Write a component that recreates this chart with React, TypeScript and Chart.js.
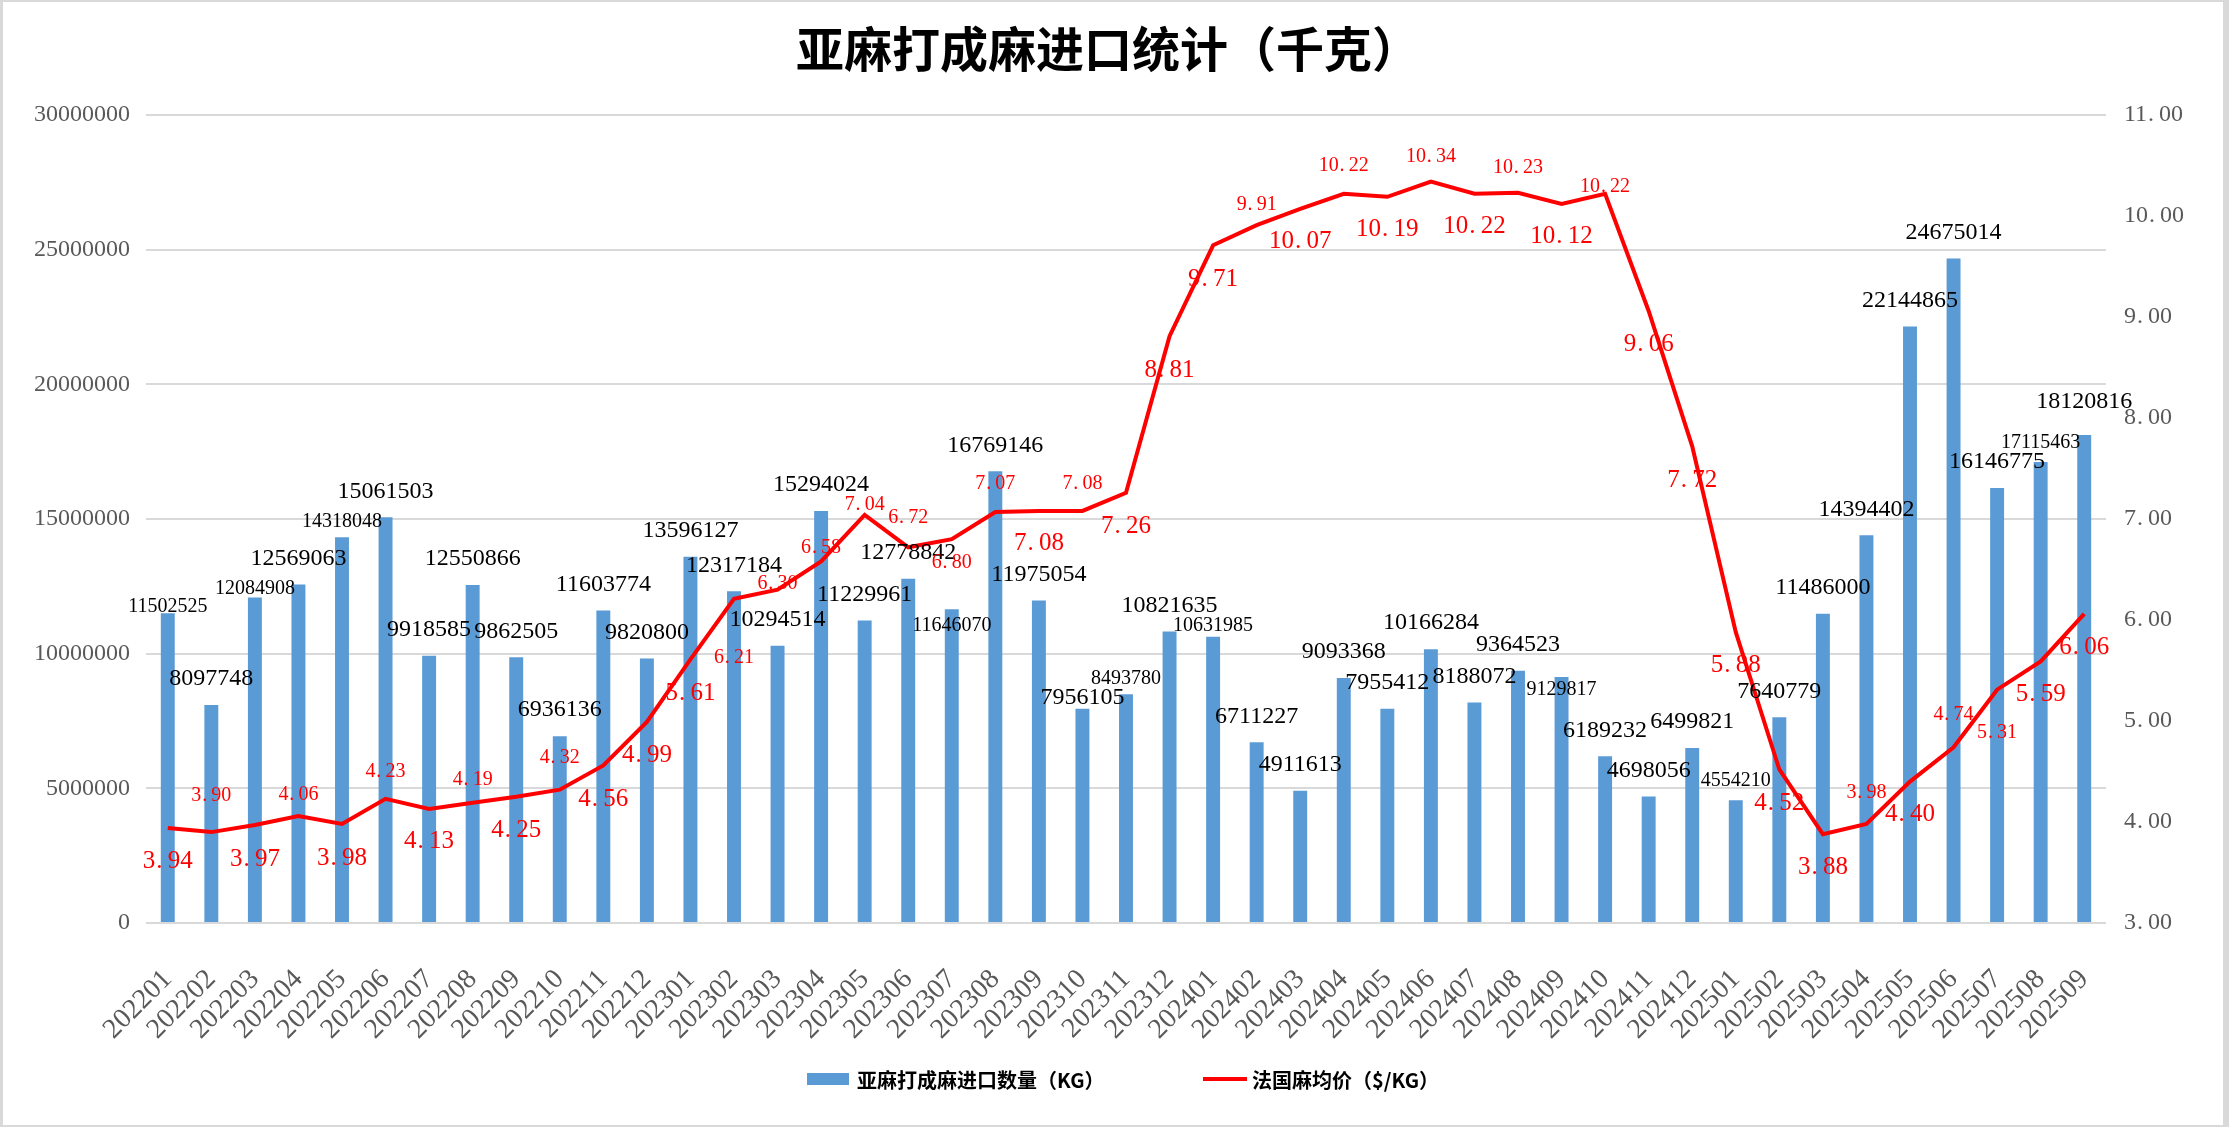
import { useEffect, useRef } from "react"
import { Chart, registerables } from "chart.js"

Chart.register(...registerables)

const months = [
  "202201", "202202", "202203", "202204", "202205", "202206", "202207", "202208", "202209", "202210", "202211", "202212",
  "202301", "202302", "202303", "202304", "202305", "202306", "202307", "202308", "202309", "202310", "202311", "202312",
  "202401", "202402", "202403", "202404", "202405", "202406", "202407", "202408", "202409", "202410", "202411", "202412",
  "202501", "202502", "202503", "202504", "202505", "202506", "202507", "202508", "202509",
]

// 亚麻打成麻进口数量 (KG)
const importKg = [
  11502525, 8097748, 12084908, 12569063, 14318048, 15061503, 9918585, 12550866, 9862505, 6936136, 11603774, 9820800,
  13596127, 12317184, 10294514, 15294024, 11229961, 12778842, 11646070, 16769146, 11975054, 7956105, 8493780, 10821635,
  10631985, 6711227, 4911613, 9093368, 7955412, 10166284, 8188072, 9364523, 9129817, 6189232, 4698056, 6499821,
  4554210, 7640779, 11486000, 14394402, 22144865, 24675014, 16146775, 17115463, 18120816,
]

// 法国麻均价 ($/KG)
const priceUsd = [
  3.94, 3.9, 3.97, 4.06, 3.98, 4.23, 4.13, 4.19, 4.25, 4.32, 4.56, 4.99,
  5.61, 6.21, 6.3, 6.58, 7.04, 6.72, 6.8, 7.07, 7.08, 7.08, 7.26, 8.81,
  9.71, 9.91, 10.07, 10.22, 10.19, 10.34, 10.22, 10.23, 10.12, 10.22, 9.06, 7.72,
  5.88, 4.52, 3.88, 3.98, 4.4, 4.74, 5.31, 5.59, 6.06,
]

const leftMin = 0
const leftMax = 30000000
const leftStep = 5000000
const rightMin = 3
const rightMax = 11
const rightStep = 1

// label placement (style only)
const priceLabelDy = [
  33, -36, 34, -21, 34, -27, 33, -23, 34, -32, 34, 33, 34, 59, -6, -14, -10, -30, 24, -28, 33, -27, 34,
  34, 34, -20, 33, -28, 33, -25, 33, -25, 33, -7, 33, 34, 33, 34, 33, -31, 33, -33, 43, 33, 33,
]
const priceLabelSize = "LSLSLSLSLS" + "LLLSSSSSSS" + "LSLLLSLSLS" + "LSLSLLLLLS" + "LSSLL"
const barSmallLabels = [0, 2, 4, 18, 22, 24, 32, 36, 43]
const barLabelDy: Record<number, number> = {
  0: -6, 2: -9, 4: -16, 18: 16, 21: -11, 22: -15, 24: -11, 32: 13, 36: -20, 43: -19, 44: -33,
}

const W = 2229
const H = 1127
const serif = "'Liberation Serif', 'DejaVu Serif', serif"
const cjk = "'Noto Sans CJK SC', 'Noto Sans', sans-serif"

// decimal number with a wide (full-cell) dot, like the mincho font of the original
function drawDecimal(
  ctx: CanvasRenderingContext2D,
  text: string,
  x0: number,
  cy: number,
  size: number,
  align: "center" | "left" = "center"
) {
  const [a, b] = text.split(".")
  const wa = ctx.measureText(a).width
  const wb = ctx.measureText(b).width
  const wd = size * 0.5
  const x = align === "center" ? x0 - (wa + wd + wb) / 2 : x0
  ctx.textAlign = "left"
  ctx.fillText(a, x, cy)
  ctx.fillText(".", x + wa + size * 0.04, cy)
  ctx.fillText(b, x + wa + wd, cy)
}

const framePlugin = {
  id: "frame",
  beforeDraw(chart: Chart) {
    const ctx = chart.ctx
    ctx.save()
    ctx.fillStyle = "#d9d9d9"
    ctx.fillRect(0, 0, W, H)
    ctx.fillStyle = "#ffffff"
    ctx.fillRect(3, 2, W - 9, H - 4)
    ctx.restore()
  },
}

const labelPlugin = {
  id: "valueLabels",
  afterDatasetsDraw(chart: Chart) {
    const ctx = chart.ctx
    const bars = chart.getDatasetMeta(0).data
    const pts = chart.getDatasetMeta(1).data
    ctx.save()
    ctx.textAlign = "center"
    ctx.textBaseline = "middle"
    ctx.fillStyle = "#000000"
    bars.forEach((bar: any, i: number) => {
      const small = barSmallLabels.includes(i)
      ctx.font = `${small ? 20 : 24}px ${serif}`
      const dy = barLabelDy[i] ?? -26
      ctx.fillText(String(importKg[i]), bar.x, bar.y + dy)
    })
    ctx.fillStyle = "#ff0000"
    pts.forEach((pt: any, i: number) => {
      const size = priceLabelSize[i] === "L" ? 25 : 20
      ctx.font = `${size}px ${serif}`
      drawDecimal(ctx, priceUsd[i].toFixed(2), pt.x, pt.y + priceLabelDy[i], size)
    })

    // right axis tick labels, placed by the y1 scale
    const y1 = chart.scales.y1
    ctx.fillStyle = "#595959"
    ctx.font = `24px ${serif}`
    y1.ticks.forEach((t: any) => {
      drawDecimal(ctx, Number(t.value).toFixed(2), y1.left + 18, y1.getPixelForValue(t.value), 24, "left")
    })
    ctx.restore()
  },
}

const titleLegendPlugin = {
  id: "titleLegend",
  afterDraw(chart: Chart) {
    const ctx = chart.ctx
    ctx.save()
    ctx.fillStyle = "#000000"
    ctx.textAlign = "center"
    ctx.textBaseline = "middle"
    ctx.font = `bold 48px ${cjk}`
    ctx.fillText("亚麻打成麻进口统计（千克）", 1108, 49)

    ctx.textAlign = "left"
    ctx.font = `bold 20px ${cjk}`
    ctx.fillStyle = "#5b9bd5"
    ctx.fillRect(807, 1073, 42, 12)
    ctx.fillStyle = "#000000"
    ctx.fillText("亚麻打成麻进口数量（KG）", 857, 1080)

    ctx.strokeStyle = "#ff0000"
    ctx.lineWidth = 4
    ctx.beginPath()
    ctx.moveTo(1203, 1079)
    ctx.lineTo(1247, 1079)
    ctx.stroke()
    ctx.fillText("法国麻均价（$/KG）", 1252, 1080)
    ctx.restore()
  },
}

export default function App() {
  const canvasRef = useRef<HTMLCanvasElement>(null)

  useEffect(() => {
    document.body.style.margin = "0"
    if (!canvasRef.current) return
    const ctx = canvasRef.current.getContext("2d")
    if (!ctx) return

    const chart = new Chart(ctx, {
      type: "bar",
      data: {
        labels: months,
        datasets: [
          {
            type: "bar",
            label: "亚麻打成麻进口数量（KG）",
            data: importKg,
            backgroundColor: "#5b9bd5",
            barPercentage: 0.32,
            categoryPercentage: 1,
            yAxisID: "y",
            order: 1,
          },
          {
            type: "line",
            label: "法国麻均价（$/KG）",
            data: priceUsd,
            borderColor: "#ff0000",
            borderWidth: 4,
            pointRadius: 0,
            tension: 0,
            yAxisID: "y1",
            order: 0,
          } as any,
        ],
      },
      options: {
        responsive: false,
        animation: false,
        layout: { padding: { top: 115, left: 0, right: 0, bottom: 0 } },
        plugins: {
          legend: { display: false },
          title: { display: false },
          tooltip: { enabled: false },
        },
        scales: {
          x: {
            grid: { display: false },
            border: { display: false },
            ticks: {
              autoSkip: false,
              maxRotation: 45,
              minRotation: 45,
              padding: 32,
              color: "#595959",
              font: { family: serif, size: 28 },
            },
            afterFit: (scale: any) => {
              scale.height = 204
            },
          },
          y: {
            position: "left",
            min: leftMin,
            max: leftMax,
            grid: { color: "#d9d9d9", lineWidth: 2, drawTicks: false },
            border: { display: false },
            ticks: {
              stepSize: leftStep,
              padding: 16,
              color: "#595959",
              font: { family: serif, size: 24 },
              callback: (v: any) => String(v),
            },
            afterFit: (scale: any) => {
              scale.width = 146
            },
          },
          y1: {
            position: "right",
            min: rightMin,
            max: rightMax,
            grid: { display: false, drawTicks: false },
            border: { display: false },
            ticks: {
              stepSize: rightStep,
              display: false,
            },
            afterFit: (scale: any) => {
              scale.width = 123
            },
          },
        },
      },
      plugins: [framePlugin, labelPlugin, titleLegendPlugin],
    })

    return () => {
      chart.destroy()
    }
  }, [])

  return (
    <div style={{ width: W, height: H, overflow: "hidden" }}>
      <canvas ref={canvasRef} width={W} height={H} style={{ display: "block" }} />
    </div>
  )
}
